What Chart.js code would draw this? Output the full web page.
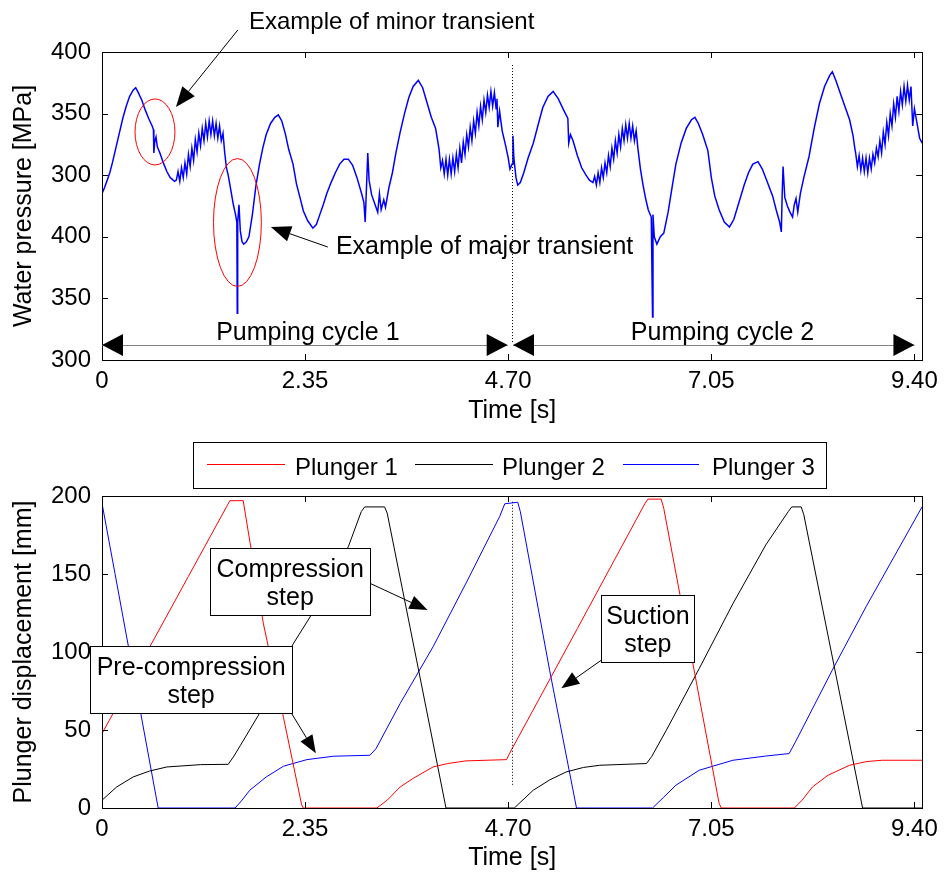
<!DOCTYPE html>
<html>
<head>
<meta charset="utf-8">
<script src="https://cdn.jsdelivr.net/npm/chart.js@4.4.1/dist/chart.umd.min.js"></script>
<style>
body { margin: 0; background: #fff; }
canvas { display: block; }
</style>
</head>
<body>
<canvas id="pressureChart" width="945" height="430"></canvas>
<canvas id="plungerChart" width="945" height="448"></canvas>
<script>
// axis ticks
const timeTicks = [0, 2.35, 4.70, 7.05, 9.40];
const timeTickLabels = ['0', '2.35', '4.70', '7.05', '9.40'];
const pressureTicks = [150, 200, 250, 300, 350, 400];
const pressureTickLabels = ['300', '350', '400', '300', '350', '400'];
const displacementTicks = [0, 50, 100, 150, 200];
const plungerLabels = ['Plunger 1', 'Plunger 2', 'Plunger 3'];

// [time s, pressure]
const pressure = [
  [0,285],[0.03,290],[0.06,296],[0.09,302],[0.12,310],[0.16,322],[0.2,334],[0.24,346],[0.28,356],[0.32,364],
  [0.36,369],[0.39,371],[0.42,367],[0.46,361],[0.5,353],[0.54,346],[0.58,340],[0.595,337],[0.6,318],[0.61,327],
  [0.625,331],[0.64,323],[0.67,318],[0.71,310],[0.75,303],[0.79,298],[0.84,295],[0.86,296],
  [0.88,303],[0.90,295],[0.92,306],[0.94,298],[0.96,310],[0.98,301],[1.00,317],[1.02,307],[1.04,322],[1.06,312],
  [1.08,329],[1.10,319],[1.12,334],[1.14,324],[1.16,338],[1.18,328],[1.20,342],[1.22,331],[1.24,344],[1.26,333],
  [1.28,344],[1.30,332],[1.32,342],[1.34,330],[1.36,340],[1.38,328],[1.40,334],[1.42,318],[1.44,306],
  [1.46,300],[1.49,288],[1.52,276],[1.545,268],[1.56,262],[1.565,188],[1.57,262],[1.585,276],[1.6,255],[1.62,246],
  [1.64,244],[1.67,246],[1.7,250],[1.74,268],[1.78,291],[1.82,308],[1.86,322],[1.9,333],[1.95,342],[2.0,347],
  [2.04,349],[2.08,344],[2.12,334],[2.16,321],[2.21,309],[2.25,293],[2.29,282],[2.33,271],[2.38,263],[2.44,257],
  [2.48,260],[2.52,268],[2.56,276],[2.6,285],[2.65,294],[2.7,302],[2.75,309],[2.8,313],[2.85,313],[2.9,308],
  [2.95,298],[3.0,286],[3.03,278],[3.045,262],[3.06,290],[3.075,318],[3.09,296],[3.12,284],[3.16,276],[3.19,270],
  [3.21,285],[3.23,272],[3.26,280],[3.28,274],[3.32,290],[3.36,302],[3.4,318],[3.45,335],[3.5,350],[3.55,363],
  [3.6,372],[3.66,377],[3.71,371],[3.76,359],[3.81,347],[3.86,338],[3.9,321],[3.92,306],
  [3.94,312],[3.96,301],[3.98,313],[4.00,300],[4.02,313],[4.04,301],[4.06,314],[4.08,303],[4.10,317],[4.12,306],
  [4.14,322],[4.16,310],[4.18,327],[4.20,317],[4.22,333],[4.24,323],[4.26,339],[4.28,328],[4.30,344],[4.32,334],
  [4.34,351],[4.36,340],[4.38,356],[4.40,345],[4.42,361],[4.44,351],[4.46,365],[4.48,355],[4.50,368],[4.52,356],
  [4.54,367],[4.56,354],[4.57,362],[4.58,339],[4.6,352],[4.63,336],[4.67,324],[4.7,314],[4.72,305],[4.745,309],
  [4.755,332],[4.765,314],[4.79,298],[4.81,292],[4.84,294],[4.88,302],[4.93,314],[4.99,326],[5.05,342],[5.1,355],
  [5.16,364],[5.22,368],[5.28,362],[5.34,353],[5.39,346],[5.4,326],[5.42,333],[5.45,328],[5.5,316],[5.55,306],
  [5.6,300],[5.64,296],[5.68,294],
  [5.70,299],[5.72,292],[5.74,302],[5.76,294],[5.78,306],[5.80,298],[5.82,310],[5.84,302],[5.86,316],[5.88,307],
  [5.90,322],[5.92,313],[5.94,328],[5.96,318],[5.98,333],[6.00,323],[6.02,338],[6.04,328],[6.06,341],[6.08,330],
  [6.10,342],[6.12,330],[6.14,340],[6.16,328],[6.18,336],[6.20,322],[6.23,305],[6.26,292],[6.29,281],[6.32,272],
  [6.355,266],[6.37,185],[6.375,268],[6.39,250],[6.42,244],[6.46,250],[6.5,253],[6.55,270],[6.6,292],[6.64,309],
  [6.7,326],[6.76,338],[6.82,345],[6.86,347],[6.9,342],[6.95,333],[7.01,320],[7.05,298],[7.09,283],[7.14,272],
  [7.2,262],[7.26,258],[7.31,264],[7.37,278],[7.43,292],[7.48,302],[7.53,309],[7.59,311],[7.64,305],[7.7,294],
  [7.76,283],[7.8,272],[7.84,262],[7.86,254],[7.87,285],[7.88,307],[7.9,282],[7.93,275],[7.96,270],[7.99,266],
  [8.01,276],[8.03,281],[8.05,270],[8.08,285],[8.12,298],[8.18,315],[8.24,338],[8.3,358],[8.36,372],[8.42,381],
  [8.45,384],[8.49,377],[8.54,367],[8.6,355],[8.65,345],[8.69,332],[8.71,322],
  [8.72,318],[8.74,307],[8.76,316],[8.78,304],[8.80,314],[8.82,303],[8.84,314],[8.86,302],[8.88,314],[8.90,305],
  [8.92,317],[8.94,310],[8.96,322],[8.98,315],[9.00,328],[9.02,318],[9.04,335],[9.06,325],[9.08,343],[9.10,332],
  [9.12,350],[9.14,340],[9.16,358],[9.18,347],[9.20,364],[9.22,352],[9.24,368],[9.26,357],[9.28,372],[9.30,360],
  [9.32,373],[9.34,361],[9.36,372],[9.38,340],[9.4,354],[9.43,342],[9.46,330],[9.49,326]
];

// [time s, displacement mm]
const plunger1 = [
  [0,47.7],[0.3,78],[0.555,103.5],[1.0,148.5],[1.44,193],[1.48,197],[1.634,197],[1.66,188],[1.868,118],[2.1,58],
  [2.31,2],[2.328,0],[3.18,0],[3.3,5],[3.45,13.5],[3.6,19],[3.83,26.3],[4.0,28.5],[4.21,30.2],[4.68,31],
  [4.737,37.2],[5.5,115],[6.28,195],[6.316,198],[6.47,198],[6.5,192],[7.14,3],[7.165,0],[8.01,0],[8.1,5],
  [8.22,13.5],[8.4,21],[8.65,27.4],[8.85,29.8],[9.03,30.6],[9.49,30.6]
];
const plunger2 = [
  [0,5],[0.17,13.5],[0.36,19.9],[0.55,23.7],[0.75,26.3],[1.14,27.8],[1.46,28],[1.52,32.7],[1.6,40],[1.81,59.5],
  [2.21,105],[2.42,123.6],[2.85,167.5],[3.0,190],[3.04,193],[3.27,193],[3.3,189],[3.64,94.8],[3.98,0],[4.77,0],
  [4.99,11.4],[5.18,18],[5.37,23.1],[5.57,26],[5.76,27.4],[6.3,28.5],[6.36,33],[6.53,49.9],[6.91,89.4],[7.3,131],
  [7.68,168.6],[7.94,190],[7.98,193],[8.09,193],[8.12,188],[8.8,0],[9.49,0]
];
const plunger3 = [
  [0,195.3],[0.15,150.4],[0.65,0],[1.54,0],[1.62,5],[1.71,11.4],[1.9,19.9],[2.1,26.8],[2.37,31],[2.68,33.2],
  [3.1,33.8],[3.17,38],[3.45,67],[3.83,103.3],[4.22,145],[4.6,186.7],[4.66,195],[4.81,196],[4.84,190],[5.18,88],
  [5.49,0],[6.37,0],[6.5,7],[6.64,14.6],[6.91,24.2],[7.3,30.6],[7.68,33.3],[7.95,34.9],[8.02,42],[8.45,88.4],
  [8.84,129],[9.49,193.2]
];

const FONT = "'Liberation Sans', Arial, sans-serif";
Chart.defaults.font.family = FONT;
Chart.defaults.color = '#000';

const toXY = arr => arr.map(p => ({ x: p[0], y: p[1] }));
const fixedTicks = values => scale => { scale.ticks = values.map(v => ({ value: v })); };
const tickText = (values, labels) => v => labels[values.indexOf(v)];

function timeAxis(titlePad) {
  return {
    type: 'linear', min: 0, max: 9.49,
    afterBuildTicks: fixedTicks(timeTicks),
    afterFit: s => { s.height = 70; },
    grid: { display: false, drawTicks: false },
    border: { display: false },
    ticks: { padding: 7, maxRotation: 0, autoSkip: false, font: { size: 24 }, callback: tickText(timeTicks, timeTickLabels) },
    title: { display: true, text: 'Time [s]', font: { size: 25 }, padding: { top: titlePad, bottom: titlePad } }
  };
}

function valueAxis(min, max, ticks, labels, title) {
  return {
    type: 'linear', min: min, max: max,
    afterBuildTicks: fixedTicks(ticks),
    afterFit: s => { s.width = 102; },
    grid: { display: false, drawTicks: false },
    border: { display: false },
    ticks: { padding: 11, font: { size: 24 }, callback: tickText(ticks, labels) },
    title: { display: true, text: title, font: { size: 25 }, padding: { top: 9, bottom: 9 } }
  };
}

// box + inward tick marks like the original figure
const frame = {
  id: 'frame',
  afterDatasetsDraw(chart) {
    const { ctx, chartArea: a } = chart;
    const xs = chart.scales.x, ys = chart.scales.y;
    ctx.save();
    ctx.strokeStyle = '#000';
    ctx.lineWidth = 1;
    ctx.strokeRect(Math.round(a.left) + 0.5, Math.round(a.top) + 0.5, Math.round(a.width), Math.round(a.height));
    ctx.beginPath();
    xs.ticks.forEach(t => {
      const px = Math.round(xs.getPixelForValue(t.value)) + 0.5;
      ctx.moveTo(px, a.bottom); ctx.lineTo(px, a.bottom - 6);
      ctx.moveTo(px, a.top); ctx.lineTo(px, a.top + 6);
    });
    ys.ticks.forEach(t => {
      const py = Math.round(ys.getPixelForValue(t.value)) + 0.5;
      ctx.moveTo(a.left, py); ctx.lineTo(a.left + 6, py);
      ctx.moveTo(a.right, py); ctx.lineTo(a.right - 6, py);
    });
    ctx.stroke();
    ctx.restore();
  }
};

function arrow(ctx, x1, y1, x2, y2, len, half) {
  const a = Math.atan2(y2 - y1, x2 - x1);
  const bx = x2 - len * Math.cos(a), by = y2 - len * Math.sin(a);
  ctx.beginPath(); ctx.moveTo(x1, y1); ctx.lineTo(bx, by); ctx.stroke();
  ctx.beginPath(); ctx.moveTo(x2, y2);
  ctx.lineTo(bx + half * Math.sin(a), by - half * Math.cos(a));
  ctx.lineTo(bx - half * Math.sin(a), by + half * Math.cos(a));
  ctx.closePath(); ctx.fill();
}

function dottedLine(ctx, x, y1, y2) {
  ctx.save();
  ctx.setLineDash([1, 2]);
  ctx.lineWidth = 1;
  ctx.beginPath(); ctx.moveTo(Math.round(x) + 0.5, y1); ctx.lineTo(Math.round(x) + 0.5, y2); ctx.stroke();
  ctx.restore();
}

function pumpingArrow(ctx, x1, x2, y, label, cx, ty) {
  ctx.save();
  ctx.strokeStyle = '#808080';
  ctx.beginPath(); ctx.moveTo(x1, y + 0.5); ctx.lineTo(x2, y + 0.5); ctx.stroke();
  ctx.fillStyle = '#000';
  ctx.beginPath(); ctx.moveTo(x1, y); ctx.lineTo(x1 + 21, y - 11); ctx.lineTo(x1 + 21, y + 11); ctx.closePath(); ctx.fill();
  ctx.beginPath(); ctx.moveTo(x2, y); ctx.lineTo(x2 - 21, y - 11); ctx.lineTo(x2 - 21, y + 11); ctx.closePath(); ctx.fill();
  ctx.font = '25px ' + FONT;
  ctx.textAlign = 'center';
  ctx.textBaseline = 'alphabetic';
  ctx.fillText(label, cx, ty);
  ctx.restore();
}

const pressureNotes = {
  id: 'pressureNotes',
  afterDraw(chart) {
    const { ctx } = chart;
    const X = v => chart.scales.x.getPixelForValue(v);
    const Y = v => chart.scales.y.getPixelForValue(v);
    ctx.save();
    ctx.strokeStyle = '#000';
    ctx.fillStyle = '#000';
    ctx.lineWidth = 1;
    dottedLine(ctx, X(4.746), Y(389.4), Y(163.8));

    // transients
    ctx.strokeStyle = '#ff0000';
    ctx.beginPath();
    ctx.ellipse(X(0.613), Y(335.1), X(0.613 + 0.231) - X(0.613), Y(335.1) - Y(335.1 + 26.8), 0, 0, Math.PI * 2);
    ctx.stroke();
    ctx.beginPath();
    ctx.ellipse(X(1.567), Y(261.6), X(1.567 + 0.277) - X(1.567), Y(261.6) - Y(261.6 + 51.9), 0, 0, Math.PI * 2);
    ctx.stroke();

    ctx.strokeStyle = '#000';
    arrow(ctx, X(1.572), Y(417.9), X(0.856), Y(355.4), 20, 8);
    arrow(ctx, X(2.613), Y(241.7), X(1.954), Y(257.9), 20, 8);
    ctx.textAlign = 'left';
    ctx.textBaseline = 'alphabetic';
    ctx.font = '24px ' + FONT;
    ctx.fillText('Example of minor transient', X(1.70), Y(418.7));
    ctx.font = '25px ' + FONT;
    ctx.fillText('Example of major transient', X(2.706), Y(236.0));

    const ay = Math.round(Y(162.2));
    pumpingArrow(ctx, X(0), X(4.694), ay, 'Pumping cycle 1', X(2.382), Y(166.2));
    pumpingArrow(ctx, X(4.755), X(9.40), ay, 'Pumping cycle 2', X(7.180), Y(166.2));
    ctx.restore();
  }
};

function noteBox(ctx, cx, cy, w, h, lines) {
  const l = Math.round(cx - w / 2) + 0.5, t = Math.round(cy - h / 2) + 0.5;
  ctx.fillStyle = '#fff';
  ctx.fillRect(l, t, w, h);
  ctx.strokeRect(l, t, w, h);
  ctx.fillStyle = '#000';
  ctx.font = '25px ' + FONT;
  ctx.textAlign = 'center';
  ctx.textBaseline = 'alphabetic';
  ctx.fillText(lines[0], cx, t + 28.5);
  ctx.fillText(lines[1], cx, t + 56);
}

const plungerNotes = {
  id: 'plungerNotes',
  afterDraw(chart) {
    const { ctx } = chart;
    const X = v => chart.scales.x.getPixelForValue(v);
    const Y = v => chart.scales.y.getPixelForValue(v);
    ctx.save();
    ctx.strokeStyle = '#000';
    ctx.fillStyle = '#000';
    ctx.lineWidth = 1;
    dottedLine(ctx, X(4.746), Y(196.3), Y(13.7));

    noteBox(ctx, X(2.177), Y(145.5), 160, 67, ['Compression', 'step']);
    arrow(ctx, X(3.102), Y(144.0), X(3.766), Y(126.9), 18, 7);
    noteBox(ctx, X(1.031), Y(82.1), 202, 67, ['Pre-compression', 'step']);
    arrow(ctx, X(2.197), Y(60.3), X(2.474), Y(35.1), 18, 7);
    noteBox(ctx, X(6.316), Y(114.9), 93, 67, ['Suction', 'step']);
    arrow(ctx, X(5.781), Y(94.9), X(5.315), Y(76.7), 18, 7);

    // legend
    ctx.strokeRect(193.5, 12.5, 633, 46);
    const samples = [[207, 285, 295], [415, 493, 502], [623, 699, 712]];
    ctx.font = '24px ' + FONT;
    ctx.textAlign = 'left';
    chart.data.datasets.forEach((ds, i) => {
      const s = samples[i];
      ctx.strokeStyle = ds.borderColor;
      ctx.beginPath(); ctx.moveTo(s[0], 34.5); ctx.lineTo(s[1], 34.5); ctx.stroke();
      ctx.fillStyle = '#000';
      ctx.fillText(ds.label, s[2], 45);
    });
    ctx.restore();
  }
};

new Chart(document.getElementById('pressureChart'), {
  type: 'line',
  data: {
    datasets: [{
      label: 'Water pressure',
      data: toXY(pressure),
      borderColor: '#0000ff',
      borderWidth: 1.5,
      pointRadius: 0,
      tension: 0
    }]
  },
  options: {
    responsive: false,
    animation: false,
    devicePixelRatio: 1,
    layout: { padding: { top: 52, right: 22, bottom: 0, left: 0 } },
    plugins: { legend: { display: false }, tooltip: { enabled: false } },
    scales: {
      x: timeAxis(4),
      y: valueAxis(150, 400, pressureTicks, pressureTickLabels, 'Water pressure [MPa]')
    }
  },
  plugins: [frame, pressureNotes]
});

const plungerColors = ['#ff0000', '#000000', '#0000ff'];
new Chart(document.getElementById('plungerChart'), {
  type: 'line',
  data: {
    datasets: [plunger1, plunger2, plunger3].map((d, i) => ({
      label: plungerLabels[i],
      data: toXY(d),
      borderColor: plungerColors[i],
      borderWidth: 1,
      pointRadius: 0,
      tension: 0
    }))
  },
  options: {
    responsive: false,
    animation: false,
    devicePixelRatio: 1,
    layout: { padding: { top: 66, right: 22, bottom: 0, left: 0 } },
    plugins: { legend: { display: false }, tooltip: { enabled: false } },
    scales: {
      x: timeAxis(5),
      y: valueAxis(0, 200, displacementTicks, ['0', '50', '100', '150', '200'], 'Plunger displacement [mm]')
    }
  },
  plugins: [frame, plungerNotes]
});
</script>
</body>
</html>
